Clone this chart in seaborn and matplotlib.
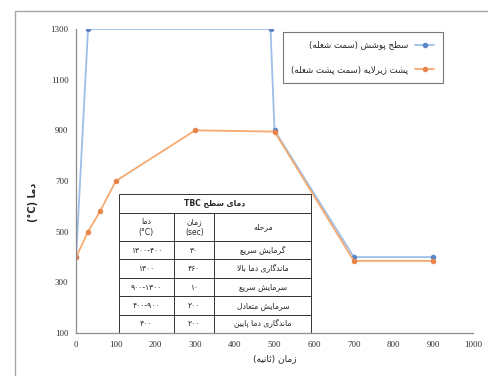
import matplotlib
matplotlib.use('Agg')
import matplotlib.pyplot as plt
import seaborn as sns
from matplotlib.patches import Rectangle

# data
time_surface = [0, 30, 490, 500, 700, 900]
temp_surface = [400, 1300, 1300, 900, 400, 400]
time_back = [0, 30, 60, 100, 300, 500, 700, 900]
temp_back = [400, 500, 580, 700, 900, 895, 385, 385]
x_ticks = list(range(0, 1001, 100))
y_ticks = list(range(100, 1301, 200))

label_surface = 'سطح پوشش (سمت شعله)'
label_back = 'پشت زیرلایه (سمت پشت شعله)'
table_title = 'دمای سطح TBC'
table_header = ['دما\n(°C)', 'زمان\n(sec)', 'مرحله']
table_stage = ['گرمایش سریع', 'ماندگاری دما بالا', 'سرمایش سریع', 'سرمایش متعادل', 'ماندگاری دما پایین']
table_time = ['۳۰', '۴۶۰', '۱۰', '۲۰۰', '۲۰۰']
table_temp = ['۱۳۰۰-۴۰۰', '۱۳۰۰', '۹۰۰-۱۳۰۰', '۴۰۰-۹۰۰', '۴۰۰']

# --- tiny Persian shaper + visual reordering (matplotlib does no bidi) ---
FORMS = {
    'ا': ('\uFE8D', '\uFE8E', None, None), 'آ': ('\uFE81', '\uFE82', None, None),
    'ب': ('\uFE8F', '\uFE90', '\uFE91', '\uFE92'), 'پ': ('\uFB56', '\uFB57', '\uFB58', '\uFB59'),
    'ت': ('\uFE95', '\uFE96', '\uFE97', '\uFE98'), 'ث': ('\uFE99', '\uFE9A', '\uFE9B', '\uFE9C'),
    'ج': ('\uFE9D', '\uFE9E', '\uFE9F', '\uFEA0'), 'ح': ('\uFEA1', '\uFEA2', '\uFEA3', '\uFEA4'),
    'خ': ('\uFEA5', '\uFEA6', '\uFEA7', '\uFEA8'), 'د': ('\uFEA9', '\uFEAA', None, None),
    'ذ': ('\uFEAB', '\uFEAC', None, None), 'ر': ('\uFEAD', '\uFEAE', None, None),
    'ز': ('\uFEAF', '\uFEB0', None, None), 'ژ': ('\uFB8A', '\uFB8B', None, None),
    'س': ('\uFEB1', '\uFEB2', '\uFEB3', '\uFEB4'), 'ش': ('\uFEB5', '\uFEB6', '\uFEB7', '\uFEB8'),
    'ط': ('\uFEC1', '\uFEC2', '\uFEC3', '\uFEC4'), 'ع': ('\uFEC9', '\uFECA', '\uFECB', '\uFECC'),
    'ف': ('\uFED1', '\uFED2', '\uFED3', '\uFED4'), 'ق': ('\uFED5', '\uFED6', '\uFED7', '\uFED8'),
    'ک': ('\uFB8E', '\uFB8F', '\uFB90', '\uFB91'), 'گ': ('\uFB92', '\uFB93', '\uFB94', '\uFB95'),
    'ل': ('\uFEDD', '\uFEDE', '\uFEDF', '\uFEE0'), 'م': ('\uFEE1', '\uFEE2', '\uFEE3', '\uFEE4'),
    'ن': ('\uFEE5', '\uFEE6', '\uFEE7', '\uFEE8'), 'و': ('\uFEED', '\uFEEE', None, None),
    'ه': ('\uFEE9', '\uFEEA', '\uFEEB', '\uFEEC'), 'ی': ('\uFBFC', '\uFBFD', '\uFBFE', '\uFBFF'),
}
MIRROR = {'(': ')', ')': '('}


def shape(text):
    out = []
    i = 0
    while i < len(text):
        ch = text[i]
        if ch not in FORMS:
            out.append(ch)
            i += 1
            continue
        prev = text[i - 1] if i > 0 else None
        nxt = text[i + 1] if i + 1 < len(text) else None
        join_prev = prev in FORMS and FORMS[prev][2] is not None
        if ch == 'ل' and nxt in ('ا', 'آ'):
            lig = ('\uFEFB', '\uFEFC') if nxt == 'ا' else ('\uFEF5', '\uFEF6')
            out.append(lig[1] if join_prev else lig[0])
            i += 2
            continue
        join_next = nxt in FORMS and FORMS[ch][2] is not None
        iso, fin, ini, med = FORMS[ch]
        if join_prev and join_next:
            out.append(med)
        elif join_prev:
            out.append(fin)
        elif join_next:
            out.append(ini)
        else:
            out.append(iso)
        i += 1
    return ''.join(out)


def is_ltr(ch):
    return ch.isascii() and ch.isalnum() or ch in '°۰۱۲۳۴۵۶۷۸۹.'


def fa(text):
    lines = []
    for line in text.split('\n'):
        s = shape(line)
        runs = []
        for ch in s:
            kind = is_ltr(ch)
            if runs and runs[-1][0] == kind:
                runs[-1][1].append(ch)
            else:
                runs.append((kind, [ch]))
        vis = []
        for kind, chars in reversed(runs):
            if kind:
                vis.append(''.join(chars))
            else:
                vis.append(''.join(MIRROR.get(c, c) for c in reversed(chars)))
        lines.append(''.join(vis))
    return '\n'.join(lines)


sns.set_style('white')
plt.rcParams['font.family'] = ['DejaVu Sans']

fig = plt.figure(figsize=(4.88, 3.76), dpi=100)
ax = fig.add_axes([0.156, 0.114, 0.813, 0.809])
fig.patches.append(Rectangle((15 / 488, -0.1), 1.2, 1 - 11 / 376 + 0.1, transform=fig.transFigure,
                             fill=False, edgecolor='#a6a6a6', linewidth=1.0))

sns.lineplot(x=time_surface, y=temp_surface, ax=ax, color='#9dbfe8', linewidth=1.3,
             marker='o', markersize=3.2, markerfacecolor='#5b86c9', markeredgecolor='#5b86c9',
             label=fa(label_surface))
sns.lineplot(x=time_back, y=temp_back, ax=ax, color='#f5aa72', linewidth=1.3,
             marker='o', markersize=3.2, markerfacecolor='#e8844a', markeredgecolor='#e8844a',
             label=fa(label_back))

ax.set_xlim(0, 1000)
ax.set_ylim(100, 1300)
ax.set_xticks(x_ticks)
ax.set_yticks(y_ticks)
for lab in ax.get_xticklabels() + ax.get_yticklabels():
    lab.set_fontfamily('Liberation Serif')
    lab.set_fontsize(6.5)
    lab.set_color('#333333')
ax.tick_params(axis='both', direction='inout', length=3, width=0.7, color='#777777', pad=4)
for side in ['top', 'right']:
    ax.spines[side].set_visible(False)
for side in ['left', 'bottom']:
    ax.spines[side].set_color('#8c8c8c')
    ax.spines[side].set_linewidth(0.9)

ax.set_xlabel(fa('زمان (ثانیه)'), fontsize=6.5, labelpad=4)
ax.set_ylabel(fa('دما (°C)'), fontsize=7, fontweight='bold')
ax.yaxis.set_label_coords(-0.095, 0.43)

leg = ax.legend(loc='upper left', bbox_to_anchor=(0.521, 0.99), markerfirst=False,
                fontsize=6.2, frameon=True, fancybox=False, labelspacing=1.8,
                handlelength=2.2, borderpad=1.0, borderaxespad=0)
leg.get_frame().set_edgecolor('#555555')
leg.get_frame().set_linewidth(0.8)

# inset table
x0, w = 0.107, 0.486
body_top = 0.395
title_top = 0.4575
cell_text = [[fa(h) for h in table_header]]
for tmp, tm, st in zip(table_temp, table_time, table_stage):
    cell_text.append([tmp, tm, fa(st)])
tbl = ax.table(cellText=cell_text, colWidths=[55, 40, 96], cellLoc='center',
               bbox=[x0, 0, w, body_top])
tbl.auto_set_font_size(False)
tbl.set_fontsize(5.5)
for (r, c), cell in tbl.get_celld().items():
    cell.set_height(28 if r == 0 else 18.4)
    cell.set_edgecolor('#333333')
    cell.set_linewidth(0.7)
    cell.set_facecolor('white')
tbl_title = ax.table(cellText=[[fa(table_title)]], cellLoc='center',
                     bbox=[x0, body_top, w, title_top - body_top])
tbl_title.auto_set_font_size(False)
tbl_title.set_fontsize(5.5)
for cell in tbl_title.get_celld().values():
    cell.set_edgecolor('#333333')
    cell.set_linewidth(0.7)
    cell.set_facecolor('white')
    cell.get_text().set_fontweight('bold')

fig.savefig('out.png', dpi=100)
